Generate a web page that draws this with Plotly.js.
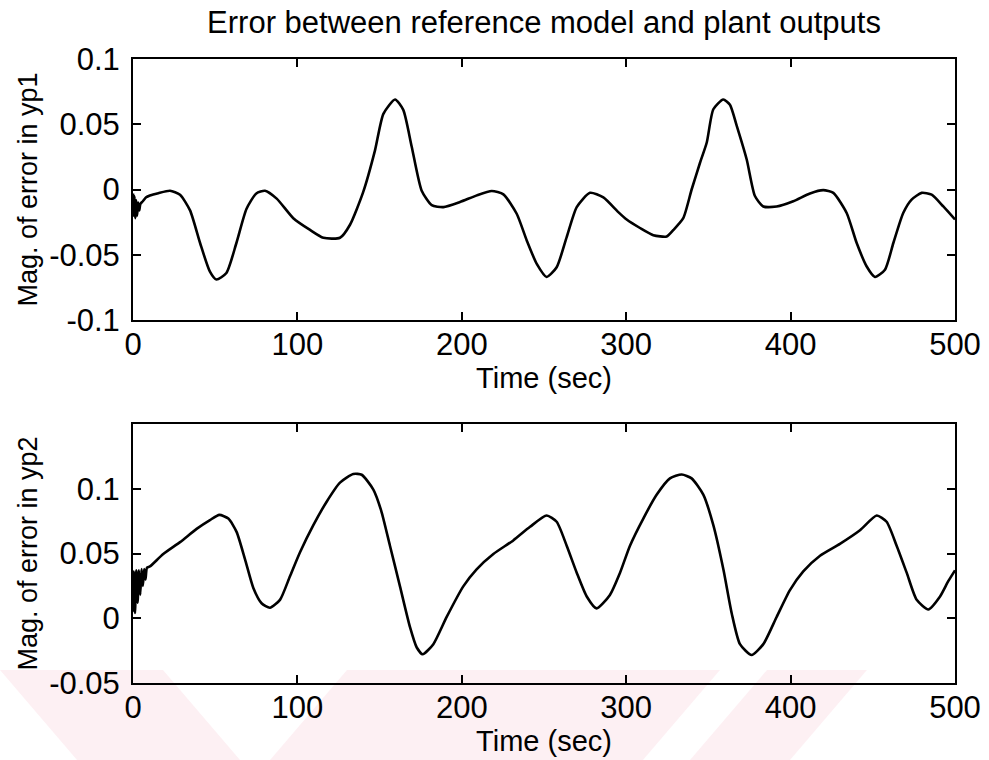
<!DOCTYPE html>
<html>
<head>
<meta charset="utf-8">
<script src="https://cdn.plot.ly/plotly-3.0.1.min.js"></script>
<style>html,body{margin:0;padding:0;background:#fff;}#chart{width:989px;height:760px;}</style>
</head>
<body>
<div id="chart"></div>
<script>
// ---- Data ----
const time1 = [0,0.4,0.9,1.4,1.9,2.5,3.1,3.8,4.5,6,8,10.3,15.4,22.5,28.6,34.7,40.8,46.8,50.7,56.8,62.9,69,75,80.3,87.4,97.5,107.7,115.8,125.9,132,140,147.2,152.3,159.4,164.4,169.5,175.6,181.7,188.8,198.9,209.1,218.2,225.3,233.4,239.5,245.6,251.6,257.7,263.8,269.9,278,286.1,295.2,300.3,308.4,316.5,324.6,328.7,334.7,339.8,344.9,349,353,359,363.1,367.2,373.3,378.3,383.4,391.5,401.6,411.8,419.9,426,434.1,440.2,446.3,451.3,457.4,462.5,468.5,473.6,479.7,485.8,492.9,500];
const errYp1 = [-0.003,-0.02,-0.005,-0.022,-0.008,-0.02,-0.01,-0.016,-0.011,-0.009,-0.006,-0.0046,-0.0028,-0.001,-0.004,-0.016,-0.041,-0.063,-0.069,-0.064,-0.041,-0.015,-0.003,-0.001,-0.007,-0.022,-0.031,-0.037,-0.037,-0.027,-0.002,0.030,0.058,0.069,0.061,0.033,-0.001,-0.012,-0.0135,-0.0096,-0.0045,-0.0012,-0.0037,-0.0186,-0.039,-0.057,-0.067,-0.0596,-0.0365,-0.0135,-0.0025,-0.006,-0.0173,-0.023,-0.0295,-0.035,-0.036,-0.031,-0.022,0,0.0205,0.036,0.0615,0.069,0.065,0.049,0.023,-0.005,-0.013,-0.013,-0.009,-0.003,-0.0005,-0.0026,-0.018,-0.041,-0.059,-0.067,-0.0615,-0.041,-0.018,-0.0077,-0.0026,-0.004,-0.013,-0.023];

const time2 = [0,0.5,1.2,2,2.8,3.6,4.4,5.2,6,6.8,7.6,8.5,10.3,18.4,28.6,38.7,46.8,52.5,58,63,68.1,73.2,78.2,83.3,89.4,95.5,101.6,109.7,117.8,125.9,134,139.1,146.2,151,156.3,162.4,168.5,172.6,176.2,182.7,190.8,200.9,209,219.2,231.3,241.5,251.6,257.7,263.8,269.9,276,282,290.1,296.2,302.3,310.4,318.6,326.6,333.8,339.8,346.9,353,359.1,364.2,369.2,376.3,383.4,391.5,399.6,407.7,417.9,430,442.2,452.4,458.4,464.5,470.6,476.7,483.8,490.9,495.9,500];
const errYp2 = [0.005,0.036,0.004,0.037,0.012,0.037,0.018,0.038,0.025,0.038,0.03,0.039,0.040,0.0496,0.0588,0.069,0.0758,0.0798,0.077,0.0667,0.0457,0.0234,0.0116,0.0081,0.0142,0.0325,0.051,0.0719,0.090,0.1047,0.1114,0.1108,0.0994,0.083,0.056,0.0246,-0.0069,-0.0226,-0.0278,-0.02,0.001,0.0246,0.0378,0.0496,0.0601,0.0706,0.0793,0.0745,0.056,0.0352,0.0168,0.0076,0.018,0.035,0.056,0.077,0.0955,0.108,0.111,0.108,0.0955,0.0719,0.0378,0.0037,-0.02,-0.0284,-0.02,0.001,0.0217,0.0362,0.0483,0.0575,0.068,0.0793,0.0745,0.056,0.0352,0.0142,0.0068,0.0168,0.0286,0.037];

const xTickVals = [0,100,200,300,400,500];
const xTickText = ["0","100","200","300","400","500"];
const y1TickVals = [-0.1,-0.05,0,0.05,0.1];
const y1TickText = ["-0.1","-0.05","0","0.05","0.1"];
const y2TickVals = [-0.05,0,0.05,0.1];
const y2TickText = ["-0.05","0","0.05","0.1"];

const chartTitle = "Error between reference model and plant outputs";
const xTitle = "Time (sec)";
const y1Title = "Mag. of error in yp1";
const y2Title = "Mag. of error in yp2";

// ---- Styling ----
const FONT = "Liberation Sans, Arial, Helvetica, sans-serif";
const W = 989, H = 760, L = 133, R = 34, T = 59, B = 77;
const pw = W - L - R, ph = H - T - B;

const lineStyle = {color: "#000", width: 2.6, shape: "spline", smoothing: 0.6};

const traces = [
  {x: time1, y: errYp1, type: "scatter", mode: "lines", line: lineStyle, xaxis: "x", yaxis: "y", hoverinfo: "skip"},
  {x: time2, y: errYp2, type: "scatter", mode: "lines", line: lineStyle, xaxis: "x2", yaxis: "y2", hoverinfo: "skip"}
];

function xAxis(anchor) {
  return {
    anchor: anchor, domain: [0, 1], range: [0, 500],
    tickmode: "array", tickvals: xTickVals, ticktext: xTickText,
    ticks: "inside", ticklen: 8, tickwidth: 2, tickcolor: "#000",
    showline: true, linewidth: 2, linecolor: "#000", mirror: "allticks",
    showgrid: false, zeroline: false,
    tickfont: {family: FONT, size: 31, color: "#000"},
    ticklabelstandoff: -4,
    title: {text: xTitle, font: {family: FONT, size: 29, color: "#000"}, standoff: 0}
  };
}
function yAxis(anchor, dom, rng, tv, tt, title) {
  return {
    anchor: anchor, domain: dom, range: rng,
    tickmode: "array", tickvals: tv, ticktext: tt,
    ticks: "inside", ticklen: 8, tickwidth: 2, tickcolor: "#000",
    showline: true, linewidth: 2, linecolor: "#000", mirror: "allticks",
    showgrid: false, zeroline: false,
    tickfont: {family: FONT, size: 31, color: "#000"},
    ticklabelstandoff: 5,
    title: {text: title, font: {family: FONT, size: 27, color: "#000"}, standoff: 4}
  };
}

// faint pink watermark bands (page decoration), defined in pixels -> paper
function P(px, py) { return [(px - L) / pw, (H - B - py) / ph]; }
function poly(pts) {
  return "M" + pts.map(p => { const q = P(p[0], p[1]); return q[0].toFixed(4) + "," + q[1].toFixed(4); }).join(" L") + " Z";
}
const wmColor = "rgba(252,228,233,0.55)";
const wmBands = [
  [[0,670],[163,670],[240,760],[77,760]],
  [[347,670],[720,670],[643,760],[270,760]],
  [[767,670],[867,670],[790,760],[690,760]]
];
const shapes = wmBands.map(b => ({type: "path", xref: "paper", yref: "paper", path: poly(b), fillcolor: wmColor, line: {width: 0}, layer: "below"}));

const layout = {
  width: W, height: H,
  margin: {l: L, r: R, t: T, b: B, pad: 0},
  paper_bgcolor: "#fff", plot_bgcolor: "rgba(0,0,0,0)",
  showlegend: false,
  font: {family: FONT, color: "#000"},
  title: {text: chartTitle, font: {family: FONT, size: 31, color: "#000"}, x: 0.5, xref: "paper", y: 1 - 22 / H, yref: "container", yanchor: "middle"},
  xaxis: xAxis("y"),
  yaxis: yAxis("x", [(H - B - 320) / ph, 1], [-0.1, 0.1], y1TickVals, y1TickText, y1Title),
  xaxis2: xAxis("y2"),
  yaxis2: yAxis("x2", [0, (H - B - 424) / ph], [-0.05, 0.15], y2TickVals, y2TickText, y2Title),
  shapes: shapes
};

Plotly.newPlot("chart", traces, layout, {staticPlot: true, displayModeBar: false});
</script>
</body>
</html>
